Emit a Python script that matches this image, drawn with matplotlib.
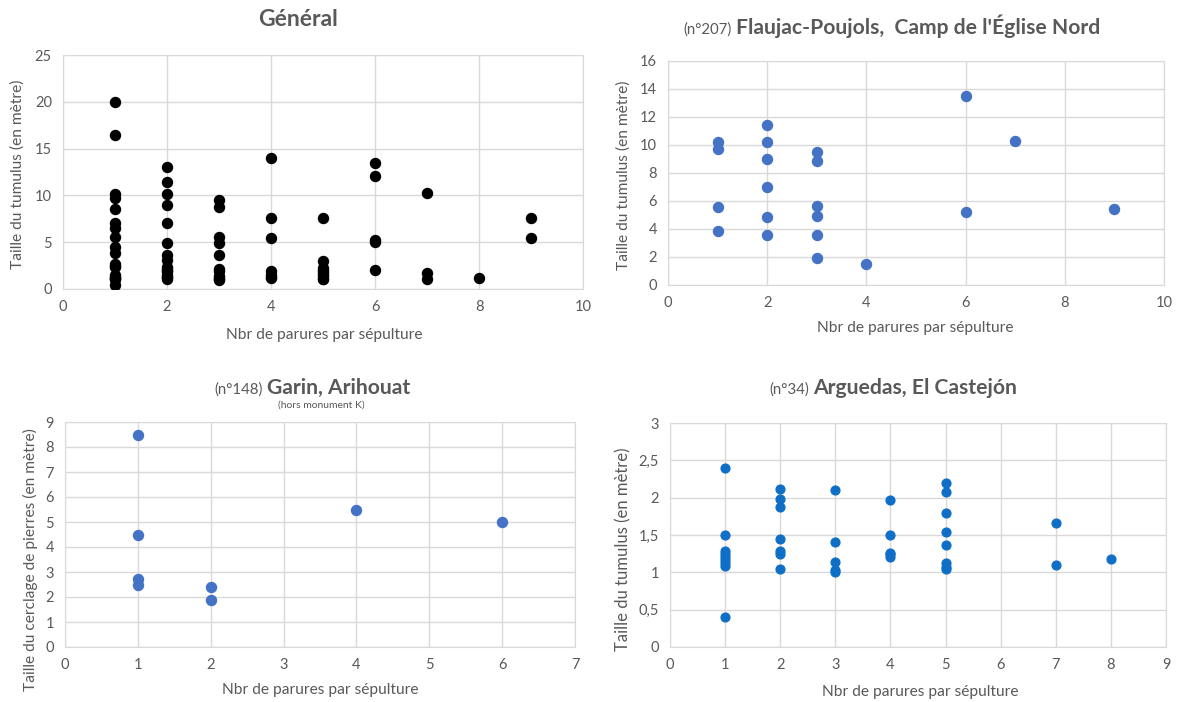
import matplotlib
matplotlib.use('Agg')
import matplotlib.pyplot as plt
from matplotlib.ticker import FuncFormatter

W, H = 1181, 702
TXT = '#595959'
GRID = '#D9D9D9'
BLUE = '#4472C4'
BLUE2 = '#0F6FC6'
plt.rcParams['font.family'] = ['Lato', 'DejaVu Sans']

XLABEL = 'Nbr de parures par sépulture'

# Général
gen_x = [1]*19 + [2]*16 + [3]*11 + [4]*7 + [5]*9 + [6]*5 + [7]*3 + [8] + [9]*2
gen_y = [20, 16.4, 10.2, 9.7, 8.5, 7.0, 6.5, 5.6, 4.5, 3.8, 2.7, 2.5, 2.4, 1.5, 1.28, 1.2, 1.1, 1.05, 0.4,
         13.0, 11.4, 10.2, 9.0, 7.0, 4.9, 3.6, 3.1, 2.4, 2.12, 1.97, 1.87, 1.45, 1.27, 1.24, 1.05,
         9.5, 8.8, 5.6, 4.9, 3.6, 2.1, 1.9, 1.4, 1.14, 1.02, 1.0,
         14.0, 7.6, 5.5, 1.97, 1.5, 1.25, 1.2,
         7.6, 3.0, 2.2, 2.08, 1.8, 1.55, 1.36, 1.1, 1.05,
         13.5, 12.1, 5.2, 5.0, 2.0,
         10.3, 1.66, 1.1,
         1.18,
         7.6, 5.4]

# (n°207) Flaujac-Poujols
fla_x = [1, 1, 1, 1, 2, 2, 2, 2, 2, 2, 3, 3, 3, 3, 3, 3, 4, 6, 6, 7, 9]
fla_y = [10.24, 9.7, 5.6, 3.86, 11.4, 10.2, 9.0, 7.0, 4.88, 3.55,
         9.5, 8.83, 5.64, 4.93, 3.55, 1.9, 1.48, 13.5, 5.2, 10.3, 5.43]

# (n°148) Garin
gar_x = [1, 1, 1, 1, 2, 2, 4, 6]
gar_y = [8.49, 4.5, 2.71, 2.49, 2.39, 1.9, 5.5, 5.0]

# (n°34) Arguedas
arg_x = [1]*9 + [2]*7 + [3]*5 + [4]*5 + [5]*8 + [7]*2 + [8]
arg_y = [2.40, 1.50, 1.29, 1.25, 1.21, 1.16, 1.12, 1.08, 0.40,
         2.12, 1.98, 1.87, 1.45, 1.28, 1.25, 1.05,
         2.10, 1.40, 1.14, 1.03, 1.00,
         1.97, 1.50, 1.26, 1.24, 1.20,
         2.20, 2.08, 1.80, 1.54, 1.36, 1.12, 1.07, 1.04,
         1.66, 1.10,
         1.18]

fig = plt.figure(figsize=(W/100, H/100), dpi=100)
LBL = 11.2


def make_ax(l, t, r, b):
    ax = fig.add_axes([l/W, 1 - b/H, (r - l)/W, (b - t)/H])
    ax.grid(True, color=GRID, lw=1)
    ax.set_axisbelow(True)
    for s in ax.spines.values():
        s.set_color(GRID)
    ax.tick_params(length=0, labelsize=10.5, colors=TXT, pad=8)
    return ax


def comma(v, pos):
    return ('%g' % v).replace('.', ',')


def mixed_title(xc, y, small, big, ssize=10.8, bsize=15.2):
    r = fig.canvas.get_renderer()
    t1 = fig.text(0, 1 - y/H, small, fontsize=ssize, color=TXT, va='baseline')
    t2 = fig.text(0, 1 - y/H, big, fontsize=bsize, color=TXT, weight='bold', va='baseline')
    w1 = t1.get_window_extent(r).width
    w2 = t2.get_window_extent(r).width
    x0 = xc - (w1 + 4 + w2)/2
    t1.set_x(x0/W)
    t2.set_x((x0 + w1 + 4)/W)


def ylab(x, y, s, size=LBL):
    fig.text(x/W, 1 - y/H, s, fontsize=size, color=TXT, rotation=90, ha='center', va='center')


def xlab(x, y):
    fig.text(x/W, 1 - y/H, XLABEL, fontsize=LBL, color=TXT, ha='center', va='center')


# Panel 1
ax1 = make_ax(63, 55, 583, 289)
ax1.scatter(gen_x, gen_y, s=52, color='black', zorder=3)
ax1.set_xlim(0, 10)
ax1.set_ylim(0, 25)
ax1.set_xticks(range(0, 11, 2))
ax1.set_yticks(range(0, 26, 5))
fig.text(298/W, 1 - 26/H, 'Général', fontsize=16.5, weight='bold', color=TXT, ha='center')
xlab(324, 335)
ylab(18, 174, 'Taille du tumulus (en mètre)')

# Panel 2
ax2 = make_ax(668, 61, 1164, 285)
ax2.scatter(fla_x, fla_y, s=52, color=BLUE, zorder=3)
ax2.set_xlim(0, 10)
ax2.set_ylim(0, 16)
ax2.set_xticks(range(0, 11, 2))
ax2.set_yticks(range(0, 17, 2))
xlab(915, 328)
ylab(624, 175, 'Taille du tumulus (en mètre)')

# Panel 3
ax3 = make_ax(65, 422, 575, 647)
ax3.scatter(gar_x, gar_y, s=52, color=BLUE, zorder=3)
ax3.set_xlim(0, 7)
ax3.set_ylim(0, 9)
ax3.set_xticks(range(0, 8))
ax3.set_yticks(range(0, 10))
xlab(320, 690)
ylab(30, 560, 'Taille du cerclage de pierres (en mètre)')
fig.text(321/W, 1 - 408/H, '(hors monument K)', fontsize=7.5, color=TXT, ha='center')

# Panel 4
ax4 = make_ax(670, 423, 1166, 647)
ax4.scatter(arg_x, arg_y, s=40, color=BLUE2, zorder=3)
ax4.set_xlim(0, 9)
ax4.set_ylim(0, 3)
ax4.set_xticks(range(0, 10))
ax4.set_yticks([0, 0.5, 1, 1.5, 2, 2.5, 3])
ax4.yaxis.set_major_formatter(FuncFormatter(comma))
xlab(920, 692)
ylab(623, 549, 'Taille du tumulus (en mètre)', 12)

mixed_title(892, 34, '(n°207)', "Flaujac-Poujols,  Camp de l'Église Nord")
mixed_title(312, 394, '(n°148)', 'Garin, Arihouat')
mixed_title(893, 394, '(n°34)', 'Arguedas, El Castejón')

fig.savefig('out.png', dpi=100, facecolor='white')
